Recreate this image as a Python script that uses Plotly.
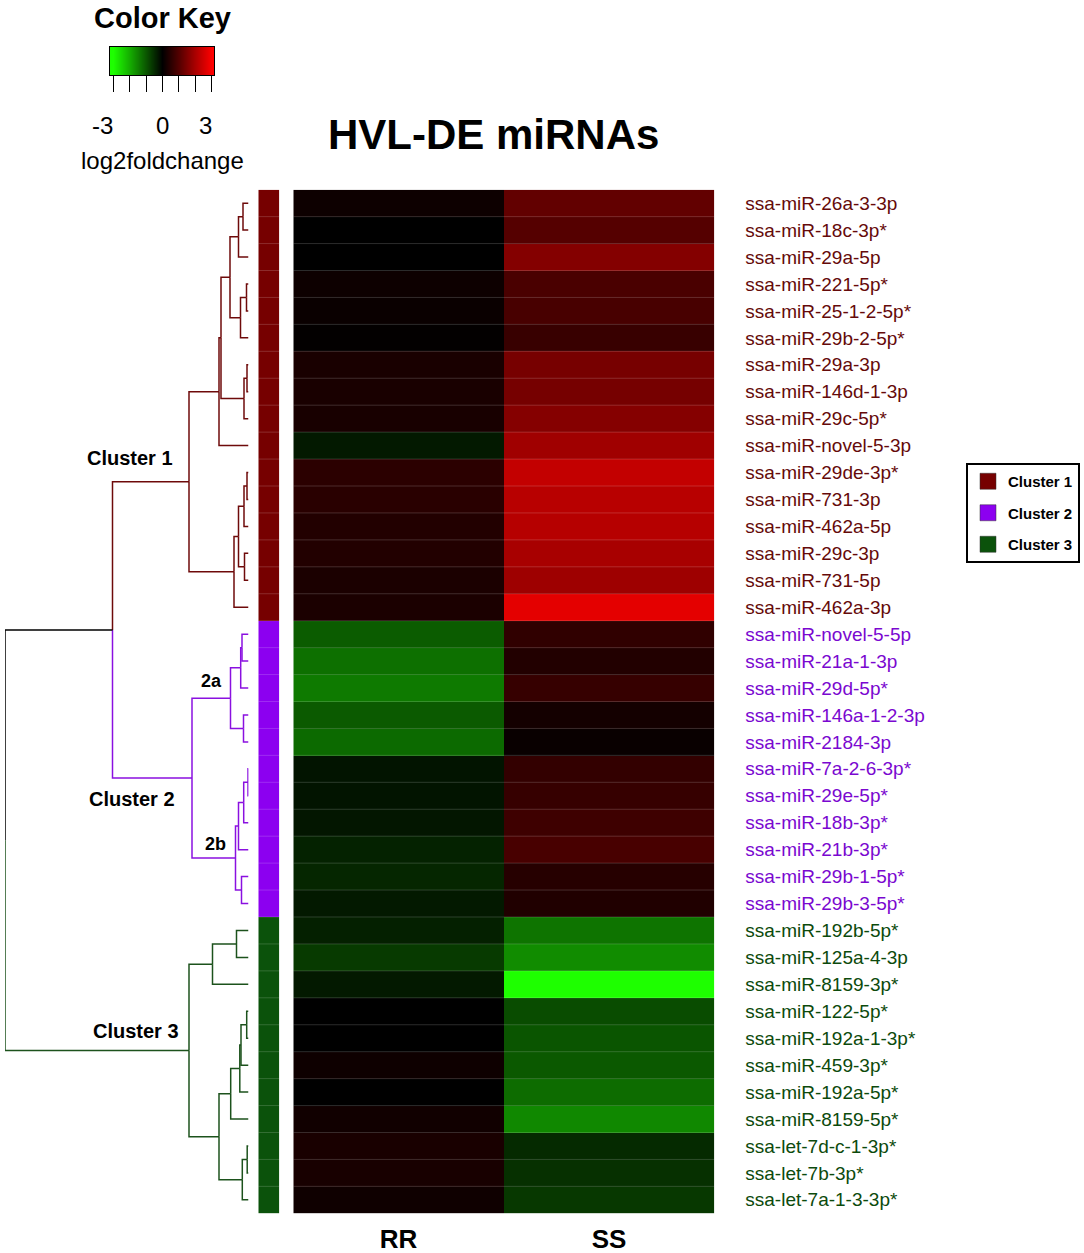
import plotly.graph_objects as go

W, H = 1084, 1253

COLUMNS = ['RR', 'SS']

MIRNAS = [
    'ssa-miR-26a-3-3p', 'ssa-miR-18c-3p*', 'ssa-miR-29a-5p', 'ssa-miR-221-5p*',
    'ssa-miR-25-1-2-5p*', 'ssa-miR-29b-2-5p*', 'ssa-miR-29a-3p', 'ssa-miR-146d-1-3p',
    'ssa-miR-29c-5p*', 'ssa-miR-novel-5-3p', 'ssa-miR-29de-3p*', 'ssa-miR-731-3p',
    'ssa-miR-462a-5p', 'ssa-miR-29c-3p', 'ssa-miR-731-5p', 'ssa-miR-462a-3p',
    'ssa-miR-novel-5-5p', 'ssa-miR-21a-1-3p', 'ssa-miR-29d-5p*', 'ssa-miR-146a-1-2-3p',
    'ssa-miR-2184-3p', 'ssa-miR-7a-2-6-3p*', 'ssa-miR-29e-5p*', 'ssa-miR-18b-3p*',
    'ssa-miR-21b-3p*', 'ssa-miR-29b-1-5p*', 'ssa-miR-29b-3-5p*',
    'ssa-miR-192b-5p*', 'ssa-miR-125a-4-3p', 'ssa-miR-8159-3p*', 'ssa-miR-122-5p*',
    'ssa-miR-192a-1-3p*', 'ssa-miR-459-3p*', 'ssa-miR-192a-5p*', 'ssa-miR-8159-5p*',
    'ssa-let-7d-c-1-3p*', 'ssa-let-7b-3p*', 'ssa-let-7a-1-3-3p*',
]

CLUSTER = [1] * 16 + [2] * 11 + [3] * 11

# log2 fold change per miRNA
RR = [0.15, 0.0, 0.0, 0.15, 0.12, 0.03, 0.3, 0.3, 0.28, -0.3, 0.5, 0.48, 0.4, 0.4, 0.32, 0.32,
      -1.08, -1.32, -1.43, -1.06, -1.25, -0.24, -0.24, -0.26, -0.4, -0.45, -0.3,
      -0.38, -0.68, -0.3, 0.0, 0.0, 0.16, 0.0, 0.2, 0.3, 0.28, 0.18]
SS = [1.15, 1.0, 1.55, 0.87, 0.85, 0.66, 1.4, 1.39, 1.56, 1.88, 2.3, 2.17, 2.14, 1.98, 1.86, 2.68,
      0.56, 0.4, 0.64, 0.24, 0.1, 0.6, 0.64, 0.73, 0.85, 0.45, 0.38,
      -1.36, -1.65, -3.0, -0.9, -1.0, -1.05, -1.27, -1.6, -0.5, -0.56, -0.66]

# row dendrogram, scipy-style: (child a, child b, height); new nodes get ids 38, 39, ...
MERGES = [
    (0, 1, 5.5), (38, 2, 10), (3, 4, 2), (40, 5, 8), (39, 41, 18.5),
    (6, 7, 1.5), (43, 8, 4.5), (42, 44, 27.5), (45, 9, 29.5),
    (10, 11, 1.5), (47, 12, 4.5), (13, 14, 4), (48, 49, 10), (50, 15, 14.5),
    (46, 51, 59.5),
    (16, 17, 6.5), (53, 18, 7.8), (19, 20, 5), (54, 55, 18),
    (21, 22, 0.5), (57, 23, 4.8), (58, 24, 10), (25, 26, 7), (59, 60, 13),
    (56, 61, 56.5),
    (52, 62, 136),
    (27, 28, 12), (64, 29, 36), (30, 31, 1.8), (66, 32, 7.5), (67, 33, 8.7),
    (68, 34, 17.8), (35, 36, 1.3), (70, 37, 6.2), (69, 71, 29.5), (65, 72, 59.5),
    (63, 73, 243.5),
]

KEY_TICKS = [-3, -2, -1, 0, 1, 2, 3]
KEY_LABELS = [-3, 0, 3]

BAR_COLORS = {1: '#760000', 2: '#8c00f0', 3: '#0b520b'}
BRANCH_COLORS = {0: '#000000', 1: '#6e0a0a', 2: '#8a10e0', 3: '#1c521c'}
TEXT_COLORS = {1: '#650a0a', 2: '#7a08d0', 3: '#0c4a0c'}
GREENRED = [[0, '#1eff00'], [0.5, '#000000'], [1, '#ff0000']]
FONT = 'Liberation Sans, Arial, sans-serif'


def px(x):
    return x / W


def py(y):
    return 1 - y / H


n = len(MIRNAS)

# dendrogram segments, grouped by branch colour
node_y = {i: float(i) for i in range(n)}
node_h = {i: 0.0 for i in range(n)}
node_cl = {i: CLUSTER[i] for i in range(n)}
segs = {}
for k, (a, b, h) in enumerate(MERGES):
    p = n + k
    node_h[p] = h
    node_y[p] = (node_y[a] + node_y[b]) / 2
    node_cl[p] = node_cl[a] if node_cl[a] == node_cl[b] else 0
    for c in (a, b):
        xs, ys = segs.setdefault(node_cl[c], ([], []))
        xs += [h, h, node_h[c], None]
        ys += [node_y[p], node_y[c], node_y[c], None]

fig = go.Figure()

for cl, (xs, ys) in segs.items():
    fig.add_trace(go.Scatter(x=xs, y=ys, mode='lines', xaxis='x', yaxis='y',
                             line=dict(color=BRANCH_COLORS[cl], width=1.5),
                             hoverinfo='skip', showlegend=False))

# side colour bar with cluster membership
fig.add_trace(go.Heatmap(
    z=[[c] for c in CLUSTER], x=[0], y=list(range(n)), xaxis='x3', yaxis='y',
    zmin=1, zmax=3, showscale=False,
    colorscale=[[0, BAR_COLORS[1]], [1 / 3, BAR_COLORS[1]], [1 / 3, BAR_COLORS[2]],
                [2 / 3, BAR_COLORS[2]], [2 / 3, BAR_COLORS[3]], [1, BAR_COLORS[3]]],
))

# main heatmap
fig.add_trace(go.Heatmap(
    z=[[r, s] for r, s in zip(RR, SS)], x=[0, 1], y=list(range(n)),
    xaxis='x2', yaxis='y', zmin=-3, zmax=3, colorscale=GREENRED, showscale=False,
    customdata=[[m, m] for m in MIRNAS],
    hovertemplate='%{customdata}<br>%{z:.2f}<extra></extra>',
))

# thin row separators over both heatmaps
for xa, x0, x1 in (('x2', -0.5, 1.5), ('x3', -0.5, 0.5)):
    sx, sy = [], []
    for i in range(n - 1):
        sx += [x0, x1, None]
        sy += [i + 0.5, i + 0.5, None]
    fig.add_trace(go.Scatter(x=sx, y=sy, mode='lines', xaxis=xa, yaxis='y',
                             line=dict(color='rgba(255,255,255,0.17)', width=1),
                             hoverinfo='skip', showlegend=False))

# colour key
fig.add_trace(go.Heatmap(
    z=[KEY_TICKS], x=KEY_TICKS, y=[0], xaxis='x4', yaxis='y4', zsmooth='best',
    zmin=-3, zmax=3, colorscale=GREENRED, showscale=False, hoverinfo='skip',
))

# legend entries
for cl in (1, 2, 3):
    fig.add_trace(go.Scatter(
        x=[None], y=[None], mode='markers', xaxis='x', yaxis='y',
        name=f'<b>Cluster {cl}</b>', legendgroup=f'c{cl}',
        marker=dict(symbol='square', size=16, color=BAR_COLORS[cl],
                    line=dict(color='#333333', width=0.5)),
    ))


def row_label(i):
    return f'<span style="color:{TEXT_COLORS[CLUSTER[i]]}">{MIRNAS[i]}</span>'


annotations = [
    dict(text='<b>HVL-DE miRNAs</b>', x=px(493), y=py(135), font=dict(size=42)),
    dict(text='<b>Color Key</b>', x=px(162), y=py(18), font=dict(size=29)),
    dict(text='log2foldchange', x=px(162.5), y=py(160), font=dict(size=24)),
    dict(text='<b>Cluster 1</b>', x=px(130), y=py(457.5), font=dict(size=20)),
    dict(text='<b>Cluster 2</b>', x=px(132), y=py(799), font=dict(size=20)),
    dict(text='<b>Cluster 3</b>', x=px(135.5), y=py(1030.5), font=dict(size=20)),
    dict(text='<b>2a</b>', x=px(211), y=py(681.5), font=dict(size=18)),
    dict(text='<b>2b</b>', x=px(215.5), y=py(844), font=dict(size=18)),
]
for a in annotations:
    a.update(xref='paper', yref='paper', showarrow=False, xanchor='center', yanchor='middle')

# colour-key numbers: the outer ones end at their tick, as in the original key
for t in KEY_LABELS:
    annotations.append(dict(text=str(t), x=t, xref='x4', y=py(125), yref='paper',
                            xanchor='center' if t == 0 else 'right', xshift=0 if t == 0 else 2,
                            yanchor='middle', showarrow=False, font=dict(size=24)))

fig.update_layout(
    width=W, height=H, margin=dict(l=0, r=0, t=0, b=0),
    paper_bgcolor='white', plot_bgcolor='white',
    font=dict(family=FONT, color='black'),
    annotations=annotations,
    xaxis=dict(domain=[px(5), px(248.5)], range=[MERGES[-1][2], 0], visible=False),
    yaxis=dict(domain=[py(1213.3), py(189.7)], range=[n - 0.5, -0.5], anchor='x2',
               side='right', tickvals=list(range(n)),
               ticktext=[row_label(i) for i in range(n)],
               tickfont=dict(size=19), ticks='', ticklabelstandoff=30,
               showgrid=False, zeroline=False, showline=False),
    xaxis2=dict(domain=[px(293.3), px(714.3)], range=[-0.5, 1.5], anchor='y',
                tickvals=[0, 1], ticktext=[f'<b>{c}</b>' for c in COLUMNS],
                tickfont=dict(size=26), ticks='', ticklabelstandoff=8,
                showgrid=False, zeroline=False, showline=False),
    xaxis3=dict(domain=[px(258.3), px(279.3)], range=[-0.5, 0.5], anchor='y', visible=False),
    xaxis4=dict(domain=[px(110), px(214)], range=[-3.2, 3.15], anchor='y4',
                tickvals=KEY_TICKS, showticklabels=False,
                ticks='outside', ticklen=16, tickwidth=1, tickcolor='black',
                showline=True, mirror=True, linecolor='black', linewidth=1,
                showgrid=False, zeroline=False),
    yaxis4=dict(domain=[py(75), py(47)], range=[-0.5, 0.5], anchor='x4',
                showline=True, mirror=True, linecolor='black', linewidth=1,
                showticklabels=False, ticks='', showgrid=False, zeroline=False),
    legend=dict(x=px(966), y=py(463), xanchor='left', yanchor='top',
                bordercolor='black', borderwidth=2, bgcolor='white',
                font=dict(size=15), tracegroupgap=9, itemsizing='trace', itemwidth=30),
)

# drop the page's default body margin so the figure sits at the window origin
fig.write_html('out.html', config=dict(displayModeBar=False),
               post_script="document.body.style.margin='0';")
